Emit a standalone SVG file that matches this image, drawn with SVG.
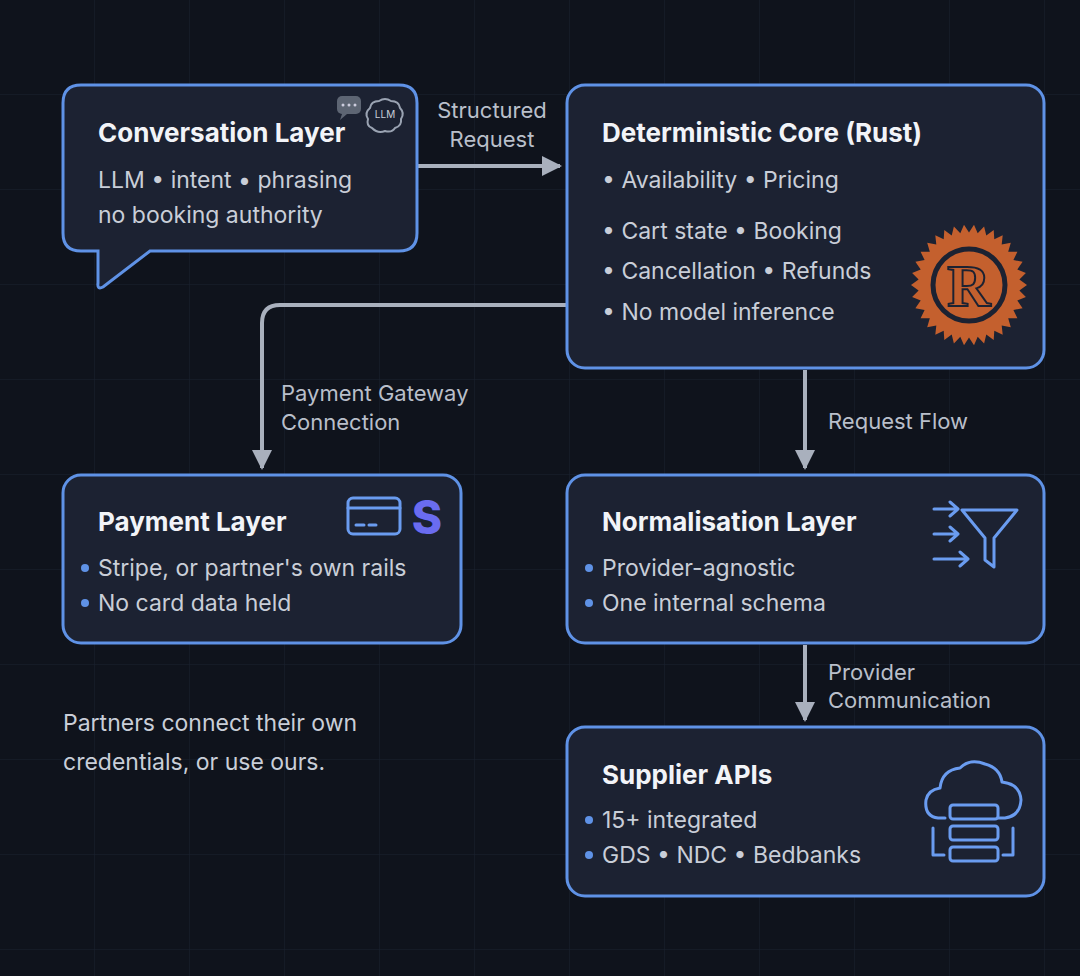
<svg xmlns="http://www.w3.org/2000/svg" width="1080" height="976" viewBox="0 0 1080 976">
<defs>
<pattern id="grid" width="95" height="95" patternUnits="userSpaceOnUse"><path d="M95 0V95H0" fill="none" stroke="#1a2130" stroke-width="1"/></pattern>
<marker id="ah" viewBox="0 0 10 10" refX="9" refY="5" markerWidth="5" markerHeight="5" orient="auto"><path d="M0 0L10 5L0 10z" fill="#a9b0bd"/></marker>
<style>
.box{fill:#1c2232;stroke:#5f92e6;stroke-width:3}
.t{font-family:Inter,"Liberation Sans",sans-serif;font-weight:700;font-size:26px;fill:#f2f4f8}
.b{font-family:Inter,"Liberation Sans",sans-serif;font-size:23px;fill:#c9ced8}
.l{font-family:Inter,"Liberation Sans",sans-serif;font-size:22px;fill:#b9bfca}
.dot{fill:#5f92e6}
.c{fill:none;stroke:#a9b0bd;stroke-width:4}
.ic{fill:none;stroke:#6a9cf0;stroke-width:3;stroke-linecap:round;stroke-linejoin:round}
</style>
</defs>
<rect width="1080" height="976" fill="#0f131c"/>
<rect width="1080" height="976" fill="url(#grid)"/>
<g id="connectors">
<path class="c" d="M417 166H560" marker-end="url(#ah)"/>
<path class="c" d="M567 305H280Q262 305 262 323V468" marker-end="url(#ah)"/>
<path class="c" d="M805 370V468" marker-end="url(#ah)"/>
<path class="c" d="M805 645V720" marker-end="url(#ah)"/>
<text class="l" x="492" y="118" text-anchor="middle">Structured</text>
<text class="l" x="492" y="147" text-anchor="middle">Request</text>
<text class="l" x="281" y="401">Payment Gateway</text>
<text class="l" x="281" y="430">Connection</text>
<text class="l" x="828" y="429">Request Flow</text>
<text class="l" x="828" y="680">Provider</text>
<text class="l" x="828" y="708">Communication</text>
</g>
<g id="conversation">
<path class="box" d="M81 85H399Q417 85 417 103V233Q417 251 399 251H150L103 287Q97 290 98 283V251H81Q63 251 63 233V103Q63 85 81 85Z"/>
<text class="t" x="98" y="142">Conversation Layer</text>
<text class="b" x="98" y="188">LLM • intent • phrasing</text>
<text class="b" x="98" y="223">no booking authority</text>
<rect x="337" y="96" width="24" height="18" rx="5" fill="#5d6573"/><path d="M342 114l-2 6 7-6z" fill="#5d6573"/>
<circle cx="343" cy="105" r="1.5" fill="#ccd"/><circle cx="349" cy="105" r="1.5" fill="#ccd"/><circle cx="355" cy="105" r="1.5" fill="#ccd"/>
<path d="M372 128q-6-2-4-9q-4-6 2-11q1-7 9-7q6-4 12 0q8 0 9 7q5 5 1 11q1 7-6 9q-3 5-10 3q-7 3-13-3z" fill="none" stroke="#9aa3b2" stroke-width="2"/>
<text x="385" y="118" text-anchor="middle" font-family="Inter,'Liberation Sans',sans-serif" font-size="10" fill="#c9ced8">LLM</text>
</g>
<g id="core">
<rect class="box" x="567" y="85" width="477" height="283" rx="18"/>
<text class="t" x="602" y="142">Deterministic Core (Rust)</text>
<text class="b" x="602" y="188">• Availability • Pricing</text>
<text class="b" x="602" y="239">• Cart state • Booking</text>
<text class="b" x="602" y="279">• Cancellation • Refunds</text>
<text class="b" x="602" y="320">• No model inference</text>
<polygon fill="#c4602e" points="1027.0,285.0 1019.4,290.4 1025.9,297.0 1017.3,300.6 1022.6,308.3 1013.4,309.9 1017.4,318.2 1008.2,318.2 1010.8,327.2 1001.7,325.5 1002.7,334.8 994.3,330.7 993.7,340.0 986.3,334.4 984.1,343.4 977.7,336.7 974.0,345.2 969.0,337.4 964.0,345.2 960.3,336.7 953.9,343.4 951.7,334.4 944.3,340.0 943.7,330.7 935.3,334.8 936.3,325.5 927.2,327.2 929.8,318.2 920.6,318.2 924.6,309.9 915.4,308.3 920.7,300.6 912.1,297.0 918.6,290.4 911.0,285.0 918.6,279.6 912.1,273.0 920.7,269.4 915.4,261.7 924.6,260.1 920.6,251.8 929.8,251.8 927.2,242.8 936.3,244.5 935.3,235.2 943.7,239.3 944.3,230.0 951.7,235.6 953.9,226.6 960.3,233.3 964.0,224.8 969.0,232.6 974.0,224.8 977.7,233.3 984.1,226.6 986.3,235.6 993.7,230.0 994.3,239.3 1002.7,235.2 1001.7,244.5 1010.8,242.8 1008.2,251.8 1017.4,251.8 1013.4,260.1 1022.6,261.7 1017.3,269.4 1025.9,273.0 1019.4,279.6"/>
<circle cx="969" cy="285" r="36" fill="none" stroke="#1c2232" stroke-width="5"/>
<text x="969" y="306" text-anchor="middle" font-family="'Liberation Serif',serif" font-weight="700" font-size="60" fill="#c4602e" stroke="#1c2232" stroke-width="2">R</text>
</g>
<g id="payment">
<rect class="box" x="63" y="475" width="398" height="168" rx="18"/>
<text class="t" x="98" y="531">Payment Layer</text>
<circle class="dot" cx="85" cy="568" r="4"/><text class="b" x="98" y="576">Stripe, or partner's own rails</text>
<circle class="dot" cx="85" cy="603" r="4"/><text class="b" x="98" y="611">No card data held</text>
<rect class="ic" x="348" y="498" width="52" height="36" rx="5"/><path class="ic" d="M348 508H400M356 525H364M369 525H376"/>
<text x="427" y="534" text-anchor="middle" font-family="Inter,'Liberation Sans',sans-serif" font-weight="800" font-size="46" fill="#6a6cf0">S</text>
</g>
<g id="normalisation">
<rect class="box" x="567" y="475" width="477" height="168" rx="18"/>
<text class="t" x="602" y="531">Normalisation Layer</text>
<circle class="dot" cx="589" cy="568" r="4"/><text class="b" x="602" y="576">Provider-agnostic</text>
<circle class="dot" cx="589" cy="603" r="4"/><text class="b" x="602" y="611">One internal schema</text>
<path class="ic" d="M934 509H958M950 502L958 509L950 516M934 534H958M950 527L958 534L950 541M934 559H968M960 552L968 559L960 566M962 510H1017L994 538V567L985 560V538Z"/>
</g>
<g id="supplier">
<rect class="box" x="567" y="727" width="477" height="169" rx="18"/>
<text class="t" x="602" y="784">Supplier APIs</text>
<circle class="dot" cx="589" cy="820" r="4"/><text class="b" x="602" y="828">15+ integrated</text>
<circle class="dot" cx="589" cy="855" r="4"/><text class="b" x="602" y="863">GDS • NDC • Bedbanks</text>
<path class="ic" d="M945 818H938Q924 816 926 800Q928 790 940 788Q942 770 960 768Q970 758 985 764Q1000 768 1002 782Q1020 784 1021 800Q1020 816 1005 818H998"/>
<rect class="ic" x="950" y="805" width="48" height="14" rx="3"/><rect class="ic" x="950" y="826" width="48" height="14" rx="3"/><rect class="ic" x="950" y="847" width="48" height="14" rx="3"/>
<path class="ic" d="M933 828V855H944M1013 828V855H1003"/>
</g>
<g id="note">
<text class="b" x="63" y="731">Partners connect their own</text>
<text class="b" x="63" y="770">credentials, or use ours.</text>
</g>
</svg>
